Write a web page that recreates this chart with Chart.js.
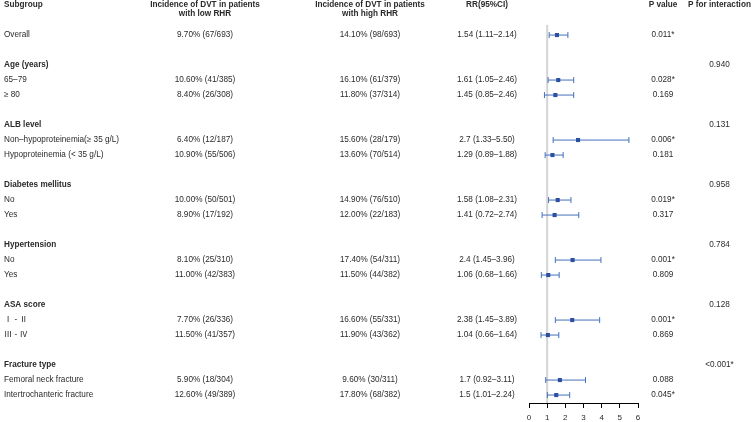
<!DOCTYPE html>
<html><head><meta charset="utf-8">
<script src="https://cdn.jsdelivr.net/npm/chart.js@4.4.0/dist/chart.umd.min.js"></script>
<style>html,body{margin:0;padding:0;background:#fff;}#wrap{width:753px;height:422px;position:relative;}</style>
</head><body><div id="wrap"><canvas id="c"></canvas></div>
<script>
// ---- data ----
const subgroups = ["Overall","","Age (years)","65–79","≥ 80","","ALB level","Non–hypoproteinemia(≥ 35 g/L)","Hypoproteinemia (< 35 g/L)","","Diabetes mellitus","No","Yes","","Hypertension","No","Yes","","ASA score","Ⅰ - Ⅱ","Ⅲ - Ⅳ","","Fracture type","Femoral neck fracture","Intertrochanteric fracture"];
const isGroupHeader = [false,false,true,false,false,false,true,false,false,false,true,false,false,false,true,false,false,false,true,false,false,false,true,false,false];
const lowRHR = ["9.70% (67/693)","","","10.60% (41/385)","8.40% (26/308)","","","6.40% (12/187)","10.90% (55/506)","","","10.00% (50/501)","8.90% (17/192)","","","8.10% (25/310)","11.00% (42/383)","","","7.70% (26/336)","11.50% (41/357)","","","5.90% (18/304)","12.60% (49/389)"];
const highRHR = ["14.10% (98/693)","","","16.10% (61/379)","11.80% (37/314)","","","15.60% (28/179)","13.60% (70/514)","","","14.90% (76/510)","12.00% (22/183)","","","17.40% (54/311)","11.50% (44/382)","","","16.60% (55/331)","11.90% (43/362)","","","9.60% (30/311)","17.80% (68/382)"];
const rrText = ["1.54 (1.11–2.14)","","","1.61 (1.05–2.46)","1.45 (0.85–2.46)","","","2.7 (1.33–5.50)","1.29 (0.89–1.88)","","","1.58 (1.08–2.31)","1.41 (0.72–2.74)","","","2.4 (1.45–3.96)","1.06 (0.68–1.66)","","","2.38 (1.45–3.89)","1.04 (0.66–1.64)","","","1.7 (0.92–3.11)","1.5 (1.01–2.24)"];
const rr = [1.54,null,null,1.61,1.45,null,null,2.7,1.29,null,null,1.58,1.41,null,null,2.4,1.06,null,null,2.38,1.04,null,null,1.7,1.5];
const ciLow = [1.11,null,null,1.05,0.85,null,null,1.33,0.89,null,null,1.08,0.72,null,null,1.45,0.68,null,null,1.45,0.66,null,null,0.92,1.01];
const ciHigh = [2.14,null,null,2.46,2.46,null,null,5.50,1.88,null,null,2.31,2.74,null,null,3.96,1.66,null,null,3.89,1.64,null,null,3.11,2.24];
const pValue = ["0.011*","","","0.028*","0.169","","","0.006*","0.181","","","0.019*","0.317","","","0.001*","0.809","","","0.001*","0.869","","","0.088","0.045*"];
const pInteraction = ["","","0.940","","","","0.131","","","","0.958","","","","0.784","","","","0.128","","","","<0.001*","",""];
const headerLine1 = ["Subgroup","Incidence of DVT in patients","Incidence of DVT in patients","RR(95%CI)","P value","P for interaction"];
const headerLine2 = ["","with low RHR","with high RHR","","",""];
const xTicks = [0,1,2,3,4,5,6];
const refValue = 1;

// ---- layout ----
const rowOf = i => i + 1;
const yTop = 0.33, yBottom = 25.53;
const colX = [4, 205, 370, 487, 663, 719.5];
const colAlign = ['left','center','center','center','center','center'];
const FONT = '"Liberation Sans", Arial, "Noto Sans CJK SC", sans-serif';
const FS = 8.2;
const TXT = '#2a2a2a';
const BLUE_LINE = '#4470bc';
const BLUE_PT = '#2c50a0';

const ciData = [], capData = [], ptData = [];
rr.forEach((v, i) => {
  if (v === null) return;
  const r = rowOf(i);
  ciData.push({x: ciLow[i], y: r}, {x: ciHigh[i], y: r}, {x: ciHigh[i], y: null});
  capData.push({x: ciLow[i], y: r}, {x: ciHigh[i], y: r});
  ptData.push({x: v, y: r});
});

const textPlugin = {
  id: 'tableText',
  afterDraw(chart) {
    const ctx = chart.ctx, ys = chart.scales.y;
    ctx.save();
    ctx.textBaseline = 'middle';
    ctx.fillStyle = TXT;
    const put = (t, col, r, bold) => {
      if (!t) return;
      ctx.font = (bold ? 'bold ' : '') + FS + 'px ' + FONT;
      ctx.textAlign = colAlign[col];
      ctx.fillText(t, colX[col], ys.getPixelForValue(r));
    };
    headerLine1.forEach((t, c) => put(t, c, -1, true));
    headerLine2.forEach((t, c) => put(t, c, -0.4, true));
    subgroups.forEach((t, i) => {
      const r = rowOf(i);
      put(t, 0, r, isGroupHeader[i]);
      put(lowRHR[i], 1, r, false);
      put(highRHR[i], 2, r, false);
      put(rrText[i], 3, r, false);
      put(pValue[i], 4, r, false);
      put(pInteraction[i], 5, r, false);
    });
    ctx.restore();
  }
};

new Chart(document.getElementById('c'), {
  type: 'scatter',
  data: {
    datasets: [
      { type: 'line', data: [{x: refValue, y: yTop}, {x: refValue, y: yBottom}], borderColor: '#d4d4d4', borderWidth: 2, pointRadius: 0, order: 4 },
      { type: 'line', data: ciData, borderColor: BLUE_LINE, borderWidth: 1, pointRadius: 0, spanGaps: false, order: 3 },
      { data: capData, pointStyle: 'line', rotation: 90, pointRadius: 3, borderColor: BLUE_LINE, borderWidth: 1, order: 2 },
      { data: ptData, pointStyle: 'rect', pointRadius: 2.9, backgroundColor: BLUE_PT, borderColor: BLUE_PT, borderWidth: 0, order: 1 }
    ]
  },
  options: {
    responsive: true, maintainAspectRatio: false, animation: false,
    events: [],
    layout: { padding: { left: 529, right: 115, top: 25, bottom: 0 } },
    plugins: { legend: { display: false }, tooltip: { enabled: false } },
    scales: {
      x: {
        type: 'linear', min: 0, max: 6,
        afterBuildTicks: s => { s.ticks = xTicks.map(v => ({value: v})); },
        afterFit: s => { s.height = 19; },
        grid: { display: true, drawOnChartArea: false, drawTicks: true, tickLength: 5, color: '#000' },
        border: { display: true, color: '#000', width: 1 },
        ticks: { font: { size: 8, family: FONT }, color: TXT, padding: 5, maxRotation: 0 }
      },
      y: { type: 'linear', min: yTop, max: yBottom, reverse: true, display: false }
    }
  },
  plugins: [textPlugin]
});
</script></body></html>
